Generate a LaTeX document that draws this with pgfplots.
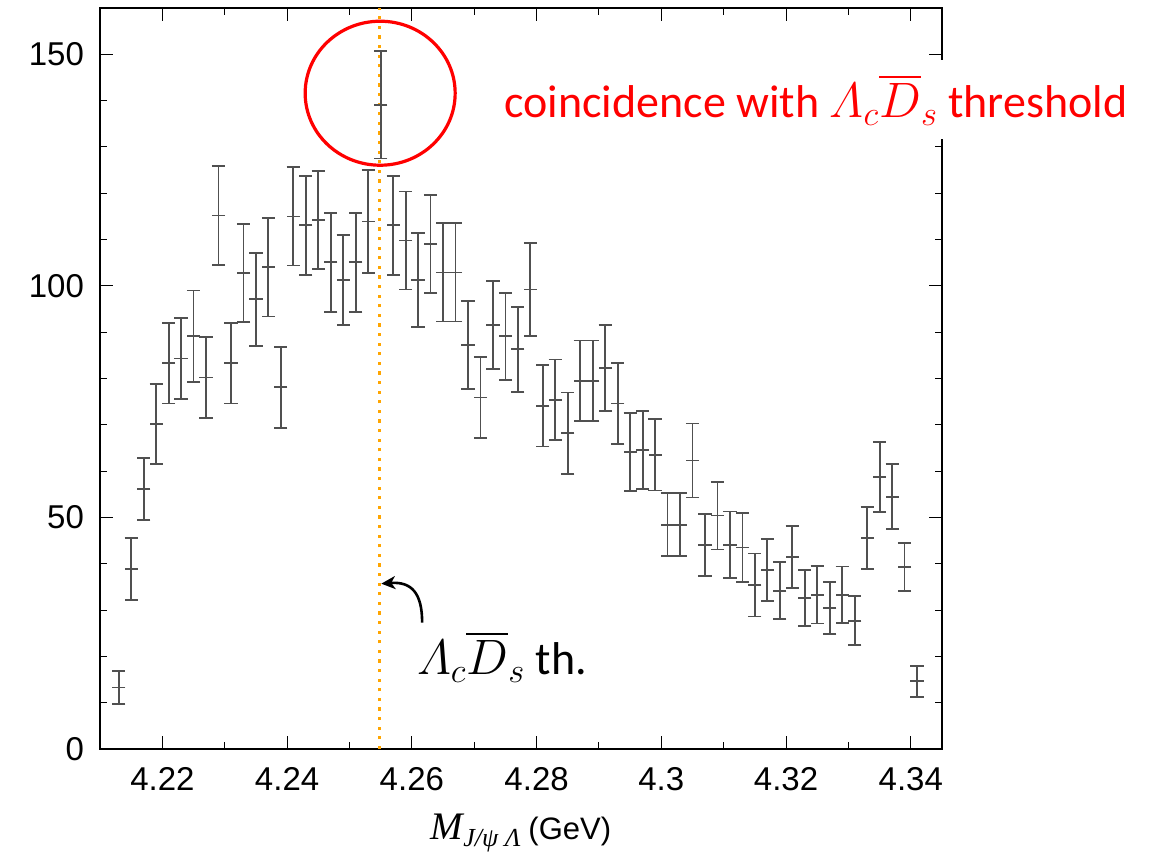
\documentclass[border=0pt]{standalone}
\usepackage{amsmath}
\usepackage{pgfplots}
\pgfplotsset{compat=1.18}
\usepackage{pgfplotstable}
\usepackage{fontspec}
\setmainfont{Liberation Sans}
\newfontfamily\carlito{Carlito}
\newfontfamily\serifit{Liberation Serif}[ItalicFont={* Italic}]
\usetikzlibrary{arrows.meta}
\definecolor{thorange}{RGB}{255,165,0}
\definecolor{bargray}{RGB}{80,80,80}

\pgfplotstableread{
x y e
4.213 13.3 3.5
4.215 38.9 6.7
4.217 56.1 6.7
4.219 70.2 8.7
4.221 83.3 8.7
4.223 84.3 8.7
4.225 89.1 9.9
4.227 80.2 8.7
4.229 115.2 10.7
4.231 83.3 8.7
4.233 102.8 10.6
4.235 97.1 10.0
4.237 104.0 10.6
4.239 78.1 8.7
4.241 115.0 10.6
4.243 113.1 10.7
4.245 114.2 10.6
4.247 105.1 10.7
4.249 101.3 9.7
4.251 105.1 10.7
4.253 113.9 11.1
4.255 139.1 11.6
4.257 113.1 10.7
4.259 109.8 10.6
4.261 101.3 10.2
4.263 109.1 10.6
4.265 102.9 10.6
4.267 102.9 10.6
4.269 87.2 9.5
4.271 75.9 8.7
4.273 91.5 9.5
4.275 89.1 9.4
4.277 86.3 9.2
4.279 99.2 10.1
4.281 74.1 8.8
4.283 75.4 8.7
4.285 68.2 8.8
4.287 79.5 8.7
4.289 79.5 8.7
4.291 82.3 9.3
4.293 74.6 8.7
4.295 64.1 8.4
4.297 64.5 8.4
4.299 63.5 7.7
4.301 48.4 6.8
4.303 48.4 6.8
4.305 62.3 8.0
4.307 44.1 6.7
4.309 50.4 7.3
4.311 44.1 7.2
4.313 43.5 7.5
4.315 35.4 6.8
4.317 38.6 6.7
4.319 34.2 6.2
4.321 41.4 6.7
4.323 32.6 6.1
4.325 33.3 6.2
4.327 30.4 5.6
4.329 33.3 6.1
4.331 27.7 5.3
4.333 45.6 6.7
4.335 58.7 7.6
4.337 54.5 7.0
4.339 39.3 5.2
4.341 14.6 3.4
}\datatable

\begin{document}
\begin{tikzpicture}
\begin{axis}[
  scale only axis,
  width=421pt, height=370.5pt,
  xmin=4.21, xmax=4.345, ymin=0, ymax=160,
  xtick={4.22,4.24,4.26,4.28,4.30,4.32,4.34},
  xticklabels={4.22,4.24,4.26,4.28,4.3,4.32,4.34},
  minor x tick num=1,
  ytick={0,50,100,150},
  yticklabels={0,50,100,150},
  minor y tick num=4,
  axis line style={line width=1.25pt},
  every tick/.style={black, line width=0.5pt},
  major tick length=6.5pt, minor tick length=3.5pt,
  tick label style={font=\fontsize{16.5}{19}\selectfont},
  yticklabel style={xshift=-4.5pt},
  xticklabel style={yshift=-5.5pt},
  xlabel={{\serifit\fontsize{19.5}{22}\selectfont\itshape M}\raisebox{-3.5pt}{\serifit\fontsize{13}{15}\selectfont\itshape J/ψ Λ}\hspace{4pt}(GeV)},
  xlabel style={at={(axis description cs:0.5,-0.1215)}, anchor=base, font=\fontsize{15.5}{18}\selectfont},
  clip=false,
]
\addplot[thorange, line width=1.6pt, dash pattern=on 1.6pt off 3.2pt] coordinates {(4.2548,0) (4.2548,160)};
\addplot[bargray, line width=0.9pt, only marks, mark=-, mark size=3.3pt,
  error bars/.cd, y dir=both, y explicit,
  error bar style={line width=0.9pt, bargray},
  error mark options={rotate=90, bargray, mark size=3.3pt, line width=0.9pt}]
  table[x=x, y=y, y error=e] {\datatable};
\draw[red, line width=1.6pt] (axis cs:4.25492,141.6) ellipse [x radius=37.5pt, y radius=36pt];
\node[anchor=base west, text=red, fill=white, inner xsep=2pt, inner ysep=7pt, font=\carlito\fontsize{23}{27}\selectfont]
  at (axis description cs:0.4751,0.8516) {coincidence with $\varLambda_c\overline{D}_s$ threshold};
\draw[line width=1.3pt, -{Stealth[length=7pt,width=6.5pt,inset=2pt]}]
  (axis cs:4.26165,27.3) .. controls (axis cs:4.26165,33.6) and (axis cs:4.2600,36.2) .. (axis cs:4.2551,35.7);
\node[anchor=base west, font=\carlito\fontsize{23}{27}\selectfont]
  at (axis description cs:0.3682,0.0999) {$\varLambda_c\overline{D}_s$ th.};
\path (axis description cs:-0.11876,-0.14845) rectangle (axis description cs:1.26603,1.01080);
\end{axis}
\end{tikzpicture}
\end{document}
